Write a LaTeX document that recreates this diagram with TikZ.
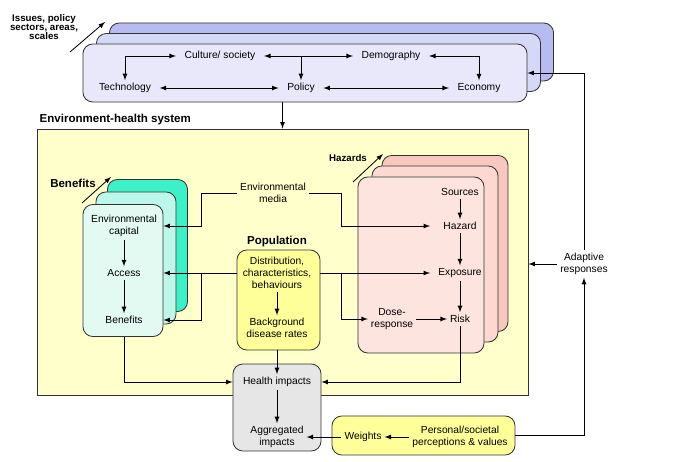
\documentclass[tikz,border=0pt]{standalone}
\usepackage{fontspec}
\setmainfont{Liberation Sans}
\usetikzlibrary{arrows,calc,positioning}
\definecolor{lavback}{HTML}{B8BAF2}
\definecolor{lavmid}{HTML}{D6D8F8}
\definecolor{lavfront}{HTML}{E8E8FA}
\definecolor{grnback}{HTML}{3CF0C8}
\definecolor{grnmid}{HTML}{BDF7EA}
\definecolor{grnfront}{HTML}{E2FAF2}
\definecolor{pnkback}{HTML}{F8C8C0}
\definecolor{pnkmid}{HTML}{FCD8D0}
\definecolor{pnkfront}{HTML}{FDE4DE}
\definecolor{sysyellow}{HTML}{FFFFCC}
\definecolor{popyellow}{HTML}{FFFF99}
\definecolor{impgrey}{HTML}{E6E6E6}
\newcommand{\tightlines}{\lineskiplimit=-10pt\relax}
\tikzset{
  box/.style={draw=black!80,line width=0.6pt,rounded corners=7pt,inner sep=0pt},
  item/.style={inner sep=2pt,align=center},
  topitem/.style={item,inner xsep=6pt},
  tag/.style={font=\fontsize{8.2}{9}\selectfont\bfseries,inner sep=1pt},
  smalltag/.style={font=\fontsize{6.9}{6.7}\selectfont\bfseries\tightlines,inner sep=1pt,align=center},
  link/.style={->,>=latex,line width=0.6pt},
  both/.style={<->,>=latex,line width=0.6pt}
}

\begin{document}
\begin{tikzpicture}[x=0.025cm,y=-0.025cm,font=\fontsize{7.3}{8.5}\selectfont]
  \useasboundingbox (0,0) rectangle (700,462);
  % issues, policy sectors
  \begin{scope}[every node/.append style={minimum width=11.1cm,minimum height=1.45cm}]
    \node[box,fill=lavback] (ctxback) at (331.5,52) {};
    \node[box,fill=lavmid] (ctxmid) at (318.5,62.5) {};
    \node[box,fill=lavfront] (ctx) at (305,73) {};
  \end{scope}
  \node[topitem] (culture) at (220,56) {Culture/ society};
  \node[topitem] (demog) at (391,56) {Demography};
  \node[topitem] (tech) at (125,88) {Technology};
  \node[topitem] (policy) at (301,88) {Policy};
  \node[topitem] (econ) at (479,88) {Economy};
  \node[smalltag] (issues) at (44,27) {Issues, policy\\sectors, areas,\\scales};
  \coordinate (issuesfrom) at (70,52);
  \coordinate (issuesto) at (105,22);

  % environment-health system
  \node[box,sharp corners,fill=sysyellow,minimum width=12.275cm,minimum height=6.65cm] (sys) at (282.5,262) {};
  \node[tag,anchor=base west] (systag) at (38,122) {Environment-health system};

  % benefits
  \begin{scope}[every node/.append style={minimum width=2cm,minimum height=3.3cm}]
    \node[box,fill=grnback] (benback) at (147.5,245.5) {};
    \node[box,fill=grnmid] (benmid) at (136,258) {};
    \node[box,fill=grnfront] (benfront) at (123,270.5) {};
  \end{scope}
  \node[item] (envcap) at (124,226) {Environmental\\capital};
  \node[item] (access) at (124,273) {Access};
  \node[item] (benefits) at (124,320) {Benefits};
  \node[tag] (bentag) at (73,183) {Benefits};
  \coordinate (benfrom) at (82,203);
  \coordinate (bento) at (111,177);

  % population
  \node[item] (envmedia) at (273,193) {Environmental\\media};
  \node[tag] (poptag) at (277,242) {Population};
  \node[box,fill=popyellow,minimum width=2.075cm,minimum height=2.5cm] (popbox) at (278.5,300) {};
  \node[item] (distrib) at (277,273) {Distribution,\\characteristics,\\behaviours};
  \node[item] (background) at (277,328) {Background\\disease rates};

  % hazards
  \begin{scope}[every node/.append style={minimum width=3.15cm,minimum height=4.4cm}]
    \node[box,fill=pnkback] (hazback) at (445,243.5) {};
    \node[box,fill=pnkmid] (hazmid) at (435,254) {};
    \node[box,fill=pnkfront] (hazfront) at (421,265) {};
  \end{scope}
  \node[item] (sources) at (460,192) {Sources};
  \node[item] (hazard) at (460,226) {Hazard};
  \node[item] (exposure) at (460,273) {Exposure};
  \node[item] (risk) at (460,319) {Risk};
  \node[item] (dose) at (392,319) {Dose-\\response};
  \node[smalltag] (haztag) at (348,158) {Hazards};
  \coordinate (hazfrom) at (353,182);
  \coordinate (hazto) at (383,154);

  % impacts and responses
  \node[item] (adapt) at (584,264) {Adaptive\\responses};
  \node[box,fill=impgrey,minimum width=2.2cm,minimum height=2.175cm] (hbox) at (277,407.5) {};
  \node[item] (health) at (277,382) {Health impacts};
  \node[item] (aggr) at (277,437) {Aggregated\\impacts};
  \node[box,fill=popyellow,minimum width=4.575cm,minimum height=0.975cm] (wbox) at (423.5,435.5) {};
  \node[item] (weights) at (363,437) {Weights};
  \node[item] (personal) at (460,437) {Personal/societal\\perceptions \& values};

  \coordinate (lbus) at (201,0);
  \coordinate (rbus) at (341,0);
  \coordinate (pbus) at (430,0);

  % connectors
  \draw[link] (issuesfrom) -- (issuesto);
  \draw[link] (benfrom) -- (bento);
  \draw[link] (hazfrom) -- (hazto);
  \draw[both] (tech.north) |- (culture.west);
  \draw[both] (culture.east) -- (demog.west);
  \draw[both] (demog.east) -| (econ.north);
  \draw[both] (tech.east) -- (policy.west);
  \draw[both] (policy.east) -- (econ.west);
  \draw[link] (policy.north |- culture.east) -- (policy.north);
  \draw[link] (ctx.south -| sys.north) -- (sys.north);
  \draw[link] (adapt.west) -- (adapt.west -| sys.east);
  \draw[link] (adapt.north) |- (ctx.east);
  \draw[link] (wbox.east) -| (adapt.south);
  \draw[link] (envmedia.west) -| (lbus |- envcap) -- (envcap -| benfront.east);
  \draw[link] (distrib -| popbox.west) -- (access -| benfront.east);
  \draw[link] (lbus |- access) |- (benefits -| benfront.east);
  \draw[link] (envcap.south) -- (access.north);
  \draw[link] (access.south) -- (benefits.north);
  \draw[link] (envmedia.east) -| (rbus |- hazard) -- (pbus |- hazard);
  \draw[link] (distrib -| popbox.east) -- (pbus |- exposure);
  \draw[link] (rbus |- exposure) |- (dose.west);
  \draw[link] (sources.south) -- (hazard.north);
  \draw[link] (hazard.south) -- (exposure.north);
  \draw[link] (exposure.south) -- (risk.north);
  \draw[link] (dose.east) -- (risk.west);
  \draw[link] (distrib.south) -- (background.north);
  \draw[link] (health.north |- popbox.south) -- (health.north);
  \draw[link] (benfront.south -| benefits) |- (health -| hbox.west);
  \draw[link] (risk.south) |- (health -| hbox.east);
  \draw[link] (health.south) -- (aggr.north);
  \draw[link] (personal.west) -- (weights.east);
  \draw[link] (weights.west) -- (aggr.east);
\end{tikzpicture}
\end{document}
